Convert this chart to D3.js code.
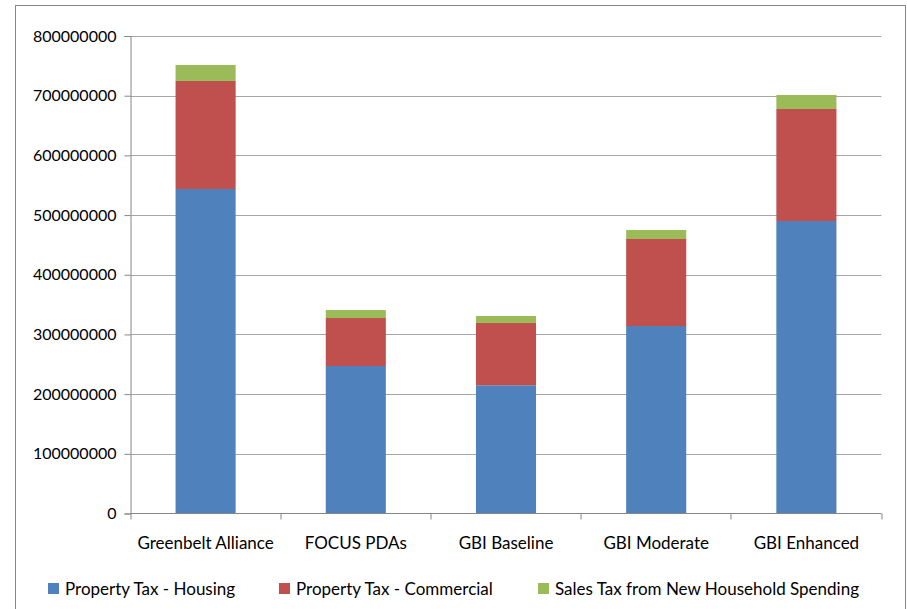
<!DOCTYPE html>
<html>
<head>
<meta charset="utf-8">
<script src="https://cdn.jsdelivr.net/npm/d3@7"></script>
<style>
  html, body { margin: 0; padding: 0; background: #fff; }
  svg { display: block; font-family: Lato, "Open Sans", sans-serif; }
</style>
</head>
<body>
<svg id="chart" width="907" height="609"></svg>
<script>
// Scenario categories along the x axis
const categories = ["Greenbelt Alliance", "FOCUS PDAs", "GBI Baseline", "GBI Moderate", "GBI Enhanced"];

// Revenue components (dollars), stacked bottom to top
const seriesNames = ["Property Tax - Housing", "Property Tax - Commercial", "Sales Tax from New Household Spending"];
const housing    = [543700000, 247100000, 214800000, 314100000, 490000000];
const commercial = [181000000,  80400000, 104400000, 145800000, 187700000];
const salesTax   = [ 26800000,  13400000,  11700000,  15100000,  23500000];

const yTicks = [0, 100000000, 200000000, 300000000, 400000000, 500000000, 600000000, 700000000, 800000000];
const colors = ["#4F81BD", "#C0504D", "#9BBB59"];

const rows = categories.map((c, i) => ({
  category: c,
  [seriesNames[0]]: housing[i],
  [seriesNames[1]]: commercial[i],
  [seriesNames[2]]: salesTax[i]
}));

const svg = d3.select("#chart");
const plot = { left: 130.5, right: 881.5, top: 36, bottom: 513.5 };

// Outer chart frame
svg.append("rect")
  .attr("x", 15.5).attr("y", 5.5)
  .attr("width", 890).attr("height", 620)
  .attr("fill", "none").attr("stroke", "#868686").attr("stroke-width", 1);

const x = d3.scaleBand().domain(categories).range([plot.left, plot.right]).paddingInner(0.6).paddingOuter(0.3);
const y = d3.scaleLinear().domain([0, 800000000]).range([plot.bottom, plot.top]);

// Horizontal gridlines
svg.append("g")
  .selectAll("line")
  .data(yTicks.filter(t => t > 0))
  .join("line")
  .attr("x1", plot.left).attr("x2", plot.right)
  .attr("y1", d => Math.round(y(d)) + 0.5).attr("y2", d => Math.round(y(d)) + 0.5)
  .attr("stroke", "#A6A6A6").attr("stroke-width", 1);

// Stacked bars
const stack = d3.stack().keys(seriesNames);
const layers = stack(rows);
svg.append("g")
  .selectAll("g")
  .data(layers)
  .join("g")
  .attr("fill", (d, i) => colors[i])
  .selectAll("rect")
  .data(d => d)
  .join("rect")
  .attr("x", d => x(d.data.category))
  .attr("width", x.bandwidth())
  .attr("y", d => y(d[1]))
  .attr("height", d => y(d[0]) - y(d[1]));

// Y axis
const yAxis = d3.axisLeft(y).tickValues(yTicks).tickFormat(d3.format("d")).tickSize(6).tickPadding(8);
const yg = svg.append("g").attr("transform", `translate(${plot.left},0)`).call(yAxis);
yg.select(".domain").attr("stroke", "#868686");
yg.selectAll(".tick line").attr("stroke", "#868686");
yg.selectAll(".tick text").attr("font-size", 16).attr("fill", "#000").attr("font-family", "Lato, sans-serif");

// X axis line with tick marks at category boundaries
const xg = svg.append("g");
xg.append("line")
  .attr("x1", plot.left).attr("x2", plot.right)
  .attr("y1", plot.bottom).attr("y2", plot.bottom)
  .attr("stroke", "#868686");
const step = (plot.right - plot.left) / categories.length;
xg.selectAll("line.tick")
  .data(d3.range(categories.length + 1))
  .join("line")
  .attr("class", "tick")
  .attr("x1", i => Math.round(plot.left + i * step))
  .attr("x2", i => Math.round(plot.left + i * step))
  .attr("y1", plot.bottom).attr("y2", plot.bottom + 6)
  .attr("stroke", "#868686");
xg.selectAll("text")
  .data(categories)
  .join("text")
  .attr("x", d => x(d) + x.bandwidth() / 2)
  .attr("y", 549)
  .attr("text-anchor", "middle")
  .attr("font-size", 17)
  .attr("fill", "#000")
  .text(d => d);

// Legend
const legendX = [48, 279, 538];
const legend = svg.append("g");
seriesNames.forEach((name, i) => {
  legend.append("rect")
    .attr("x", legendX[i]).attr("y", 583)
    .attr("width", 11).attr("height", 11)
    .attr("fill", colors[i]);
  legend.append("text")
    .attr("x", legendX[i] + 17).attr("y", 595)
    .attr("font-size", 17)
    .attr("fill", "#000")
    .text(name);
});
</script>
</body>
</html>
